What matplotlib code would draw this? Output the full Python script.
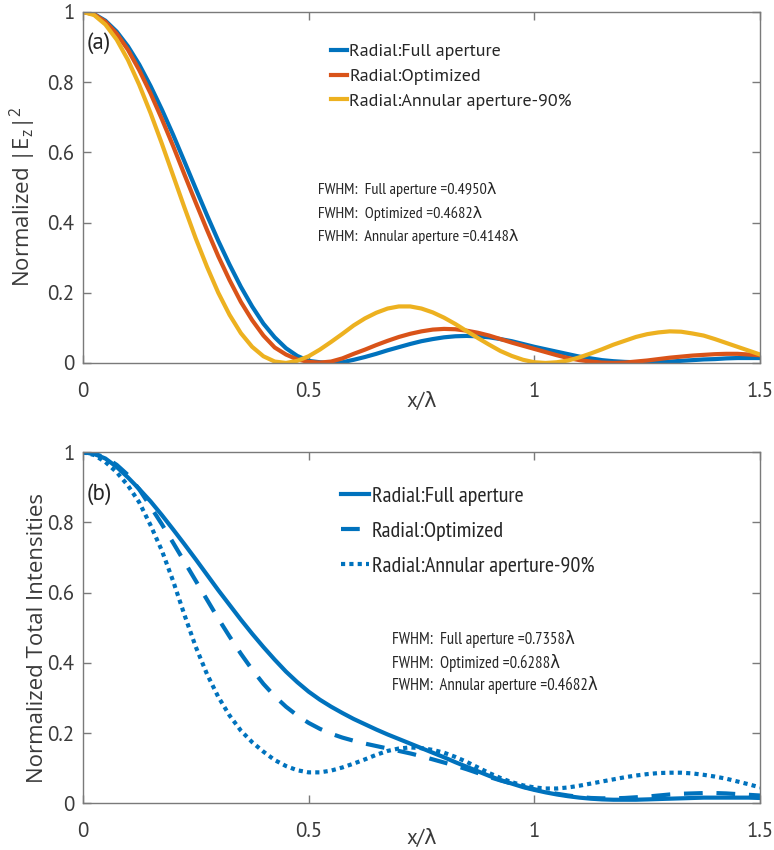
import matplotlib
matplotlib.use("Agg")
import matplotlib.pyplot as plt
from matplotlib import font_manager

# x positions in units of wavelength
x_lambda = [0.000, 0.025, 0.050, 0.075, 0.100, 0.125, 0.150, 0.175, 0.200, 0.225,
            0.250, 0.275, 0.300, 0.325, 0.350, 0.375, 0.400, 0.425, 0.450, 0.475,
            0.500, 0.525, 0.550, 0.575, 0.600, 0.625, 0.650, 0.675, 0.700, 0.725,
            0.750, 0.775, 0.800, 0.825, 0.850, 0.875, 0.900, 0.925, 0.950, 0.975,
            1.000, 1.025, 1.050, 1.075, 1.100, 1.125, 1.150, 1.175, 1.200, 1.225,
            1.250, 1.275, 1.300, 1.325, 1.350, 1.375, 1.400, 1.425, 1.450, 1.475, 1.500]

# (a) normalized |Ez|^2
ez_full = [1.000, 0.994, 0.975, 0.944, 0.902, 0.850, 0.789, 0.722, 0.650, 0.574,
           0.497, 0.421, 0.348, 0.280, 0.217, 0.161, 0.112, 0.073, 0.042, 0.020,
           0.006, 0.002, 0.000, 0.002, 0.009, 0.017, 0.026, 0.036, 0.045, 0.054,
           0.062, 0.068, 0.073, 0.076, 0.077, 0.076, 0.073, 0.068, 0.062, 0.054,
           0.046, 0.039, 0.032, 0.025, 0.018, 0.013, 0.008, 0.005, 0.003, 0.002,
           0.002, 0.003, 0.004, 0.006, 0.008, 0.010, 0.011, 0.013, 0.014, 0.014, 0.014]
ez_opt = [1.000, 0.993, 0.972, 0.938, 0.892, 0.834, 0.768, 0.695, 0.618, 0.537,
          0.457, 0.379, 0.304, 0.236, 0.174, 0.122, 0.078, 0.044, 0.024, 0.010,
          0.003, 0.001, 0.004, 0.013, 0.026, 0.038, 0.051, 0.063, 0.074, 0.083,
          0.090, 0.095, 0.097, 0.096, 0.092, 0.086, 0.078, 0.068, 0.058, 0.049,
          0.040, 0.031, 0.022, 0.014, 0.008, 0.004, 0.001, 0.000, 0.001, 0.004,
          0.007, 0.011, 0.015, 0.018, 0.021, 0.023, 0.025, 0.026, 0.026, 0.024, 0.022]
ez_annular = [1.000, 0.991, 0.964, 0.921, 0.863, 0.792, 0.712, 0.625, 0.534, 0.443,
              0.355, 0.274, 0.200, 0.137, 0.085, 0.046, 0.019, 0.004, 0.000, 0.006,
              0.019, 0.038, 0.060, 0.083, 0.107, 0.127, 0.143, 0.155, 0.161, 0.161,
              0.155, 0.144, 0.129, 0.111, 0.091, 0.071, 0.052, 0.034, 0.020, 0.009,
              0.002, 0.000, 0.002, 0.007, 0.016, 0.027, 0.039, 0.052, 0.063, 0.074,
              0.082, 0.087, 0.090, 0.089, 0.084, 0.078, 0.068, 0.057, 0.046, 0.035, 0.024]

# (b) normalized total intensities
tot_full = [1.000, 0.995, 0.982, 0.958, 0.928, 0.895, 0.860, 0.821, 0.780, 0.738,
            0.695, 0.651, 0.607, 0.565, 0.523, 0.483, 0.445, 0.409, 0.375, 0.345,
            0.318, 0.295, 0.275, 0.257, 0.240, 0.225, 0.210, 0.196, 0.183, 0.170,
            0.157, 0.144, 0.131, 0.117, 0.104, 0.091, 0.078, 0.066, 0.056, 0.046,
            0.038, 0.031, 0.025, 0.020, 0.016, 0.013, 0.011, 0.010, 0.010, 0.010,
            0.011, 0.012, 0.013, 0.014, 0.015, 0.016, 0.016, 0.016, 0.016, 0.016, 0.015]
tot_opt = [1.000, 0.996, 0.985, 0.964, 0.935, 0.894, 0.845, 0.795, 0.742, 0.688,
           0.634, 0.580, 0.526, 0.475, 0.426, 0.381, 0.340, 0.305, 0.275, 0.250,
           0.229, 0.212, 0.198, 0.187, 0.178, 0.170, 0.163, 0.156, 0.149, 0.142,
           0.134, 0.125, 0.116, 0.107, 0.097, 0.086, 0.075, 0.065, 0.056, 0.047,
           0.040, 0.033, 0.027, 0.022, 0.018, 0.015, 0.014, 0.014, 0.015, 0.017,
           0.019, 0.022, 0.025, 0.027, 0.028, 0.029, 0.029, 0.028, 0.026, 0.024, 0.022]
tot_annular = [1.000, 0.992, 0.972, 0.943, 0.905, 0.857, 0.792, 0.720, 0.633, 0.537,
               0.446, 0.368, 0.303, 0.250, 0.207, 0.174, 0.147, 0.123, 0.106, 0.094,
               0.088, 0.088, 0.093, 0.102, 0.113, 0.125, 0.138, 0.149, 0.156, 0.159,
               0.157, 0.152, 0.144, 0.132, 0.118, 0.102, 0.086, 0.072, 0.060, 0.051,
               0.045, 0.042, 0.042, 0.045, 0.050, 0.056, 0.062, 0.068, 0.074, 0.079,
               0.083, 0.086, 0.087, 0.087, 0.085, 0.081, 0.076, 0.070, 0.062, 0.054, 0.045]

labels = ["Radial:Full aperture", "Radial:Optimized", "Radial:Annular aperture-90%"]
fwhm_a = ["FWHM:  Full aperture =0.4950λ", "FWHM:  Optimized =0.4682λ",
          "FWHM:  Annular aperture =0.4148λ"]
fwhm_b = ["FWHM:  Full aperture =0.7358λ", "FWHM:  Optimized =0.6288λ",
          "FWHM:  Annular aperture =0.4682λ"]
x_ticks = [0, 0.5, 1, 1.5]
x_ticklabels = ["0", "0.5", "1", "1.5"]
y_ticks = [0, 0.2, 0.4, 0.6, 0.8, 1]
y_ticklabels = ["0", "0.2", "0.4", "0.6", "0.8", "1"]

BLUE, RED, YELLOW = "#0072BD", "#D95319", "#EDB120"
AXIS_GRAY, TEXT_GRAY, INK = "#7a7a7a", "#3a3a3a", "#262626"

installed = {f.name for f in font_manager.fontManager.ttflist}


def pick(*candidates):
    for c in candidates:
        if c in installed:
            return c
    return "DejaVu Sans"


MAIN = pick("PT Sans", "Source Sans Pro", "Source Sans 3", "Open Sans")
NARROW = pick("PT Sans Narrow", "Roboto Condensed", "Liberation Sans Narrow",
              "Fira Sans Condensed", "Open Sans Condensed")
LABEL = pick("Open Sans", "Noto Sans")
plt.rcParams["font.family"] = [MAIN, "DejaVu Sans"]


def style_axes(ax):
    ax.set_xlim(0, 1.5)
    ax.set_ylim(0, 1)
    ax.set_xticks(x_ticks, x_ticklabels)
    ax.set_yticks(y_ticks, y_ticklabels)
    ax.tick_params(direction="in", top=True, right=True, length=6, width=1,
                   color=AXIS_GRAY, labelcolor=TEXT_GRAY, labelsize=15)
    ax.tick_params(axis="x", pad=13.5)
    ax.tick_params(axis="y", pad=6)
    for s in ax.spines.values():
        s.set_color(AXIS_GRAY)
        s.set_linewidth(1)


fig = plt.figure(figsize=(7.74, 8.5), dpi=100)
ax1 = fig.add_axes([0.107, 0.573, 0.875, 0.413])
ax2 = fig.add_axes([0.107, 0.055, 0.875, 0.413])

# panel (a)
ax1.plot(x_lambda, ez_full, color=BLUE, lw=3, label=labels[0])
ax1.plot(x_lambda, ez_opt, color=RED, lw=3, label=labels[1])
ax1.plot(x_lambda, ez_annular, color=YELLOW, lw=3, label=labels[2])
style_axes(ax1)
ax1.set_xlabel("x/λ", fontsize=15, color=TEXT_GRAY, labelpad=-6)
ax1.set_ylabel(r"Normalized |E$_\mathregular{z}$|$^\mathregular{2}$", fontsize=16,
               color=TEXT_GRAY, family=[LABEL, "DejaVu Sans"])
ax1.yaxis.set_label_coords(-0.066, 0.473)
ax1.text(0.009, 0.912, "(a)", fontsize=16.5, color=INK, ha="left", va="center")
ax1.legend(loc="upper left", bbox_to_anchor=(0.366, 0.91), frameon=False, fontsize=13,
           handlelength=0.9, handletextpad=0.12, labelspacing=0.45, borderpad=0,
           borderaxespad=0, labelcolor=INK)
for t, yy in zip(fwhm_a, [0.493, 0.427, 0.359]):
    ax1.text(0.521, yy, t, family=[NARROW, "DejaVu Sans"], fontsize=11.7,
             color=INK, ha="left", va="center")

# panel (b)
ax2.plot(x_lambda, tot_full, color=BLUE, lw=3, label=labels[0])
ax2.plot(x_lambda, tot_opt, color=BLUE, lw=3, ls=(0, (4.5, 3.3)), label=labels[1])
ax2.plot(x_lambda, tot_annular, color=BLUE, lw=3, ls=(0, (1, 1)), label=labels[2])
style_axes(ax2)
ax2.set_xlabel("x/λ", fontsize=15, color=TEXT_GRAY, labelpad=-8.5)
ax2.set_ylabel("Normalized Total Intensities", fontsize=16, color=TEXT_GRAY,
               family=[LABEL, "DejaVu Sans"])
ax2.yaxis.set_label_coords(-0.052, 0.472)
ax2.text(0.009, 0.88, "(b)", fontsize=16.5, color=INK, ha="left", va="center")
ax2.legend(loc="upper left", bbox_to_anchor=(0.381, 0.903), frameon=False,
           prop={"family": [NARROW, "DejaVu Sans"], "size": 16},
           handlelength=1.25, handletextpad=0.15, labelspacing=0.7, borderpad=0,
           borderaxespad=0, labelcolor=INK)
for t, yy in zip(fwhm_b, [0.467, 0.400, 0.337]):
    ax2.text(0.685, yy, t, family=[NARROW, "DejaVu Sans"], fontsize=12,
             color=INK, ha="left", va="center")

fig.savefig("out.png", dpi=100)
